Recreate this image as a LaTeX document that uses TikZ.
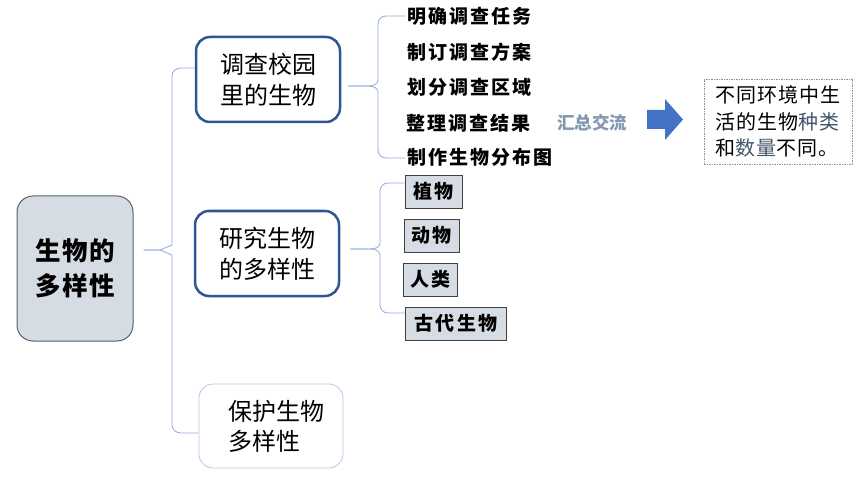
\documentclass[tikz,border=0pt]{standalone}
\usepackage{fontspec}
\setmainfont{Noto Sans CJK SC}
\newfontfamily\cjk{Noto Sans CJK SC}
\newfontfamily\cjkitem[LetterSpace=11]{Noto Sans CJK SC}
\newfontfamily\cjkroot[LetterSpace=6]{Noto Sans CJK SC}
\newfontfamily\cjkres[LetterSpace=5]{Noto Sans CJK SC}
\definecolor{rootfill}{HTML}{D6DCE4}
\definecolor{rootdraw}{HTML}{59606B}
\definecolor{darkblue}{HTML}{2F5597}
\definecolor{paleblue}{HTML}{B4C7E7}
\definecolor{connc}{HTML}{8FAADC}
\definecolor{graybl}{HTML}{8497B0}
\definecolor{slate}{HTML}{44546A}
\definecolor{arrowc}{HTML}{4472C4}
\definecolor{boxdraw}{HTML}{404040}
\tikzset{
  rootbox/.style={draw=rootdraw, line width=1pt, fill=rootfill, rounded corners=16pt,
    minimum width=116pt, minimum height=145pt, inner sep=0pt, align=center,
    font=\cjkroot\bfseries\fontsize{25.5}{35}\selectfont},
  mainbox/.style={draw=darkblue, line width=2.5pt, rounded corners=14pt,
    minimum width=144pt, minimum height=85pt, inner sep=0pt, align=center,
    font=\cjk\fontsize{24}{31}\selectfont},
  softbox/.style={draw=paleblue, line width=0.8pt, rounded corners=14pt,
    minimum width=144pt, minimum height=84pt, inner sep=0pt,
    font=\cjk\fontsize{24}{30}\selectfont},
  itemtxt/.style={inner sep=0pt, anchor=west, font=\cjkitem\bfseries\fontsize{19}{20}\selectfont},
  graybox/.style={draw=boxdraw, line width=0.8pt, fill=rootfill, minimum height=33pt,
    inner sep=0pt, font=\cjkitem\bfseries\fontsize{19}{20}\selectfont},
  resbox/.style={draw=graybl, line width=0.8pt, dash pattern=on 1.5pt off 1pt,
    minimum width=148pt, minimum height=85pt, inner sep=0pt, align=left,
    font=\cjkres\fontsize{20}{26.5}\selectfont},
  conn/.style={draw=connc, line width=0.8pt},
}
\begin{document}
\begin{tikzpicture}[x=1pt,y=-1pt]
\useasboundingbox (0,0) rectangle (860,484);
% root
\node[rootbox] (root) at (75,268.5) {生物的\\多样性};
% main branches
\node[mainbox] (c1) at (268,79.5) {调查校园\\里的生物};
\node[mainbox] (c2) at (267,253.5) {研究生物\\的多样性};
\node[softbox, text width=110pt, align=left] (c3) at (271,426) {\hspace*{12pt}保护生物\\\hspace*{12pt}多样性};
% items of branch 1
\node[itemtxt] (i1) at (407,16) {明确调查任务};
\node[itemtxt] (i2) at (407,52) {制订调查方案};
\node[itemtxt] (i3) at (407,87) {划分调查区域};
\node[itemtxt] (i4) at (406,123) {整理调查结果};
\node[itemtxt] (i5) at (407,157) {制作生物分布图};
% summary
\node[inner sep=0pt, anchor=west, text=graybl, font=\cjk\bfseries\fontsize{17.5}{20}\selectfont] (hz) at (557,123) {汇总交流};
\fill[arrowc] (647,110) -- (665,110) -- (665,99) -- (683,119.5) -- (665,140) -- (665,129) -- (647,129) -- cycle;
\node[resbox] (res) at (778,121.5) {不同环境中生\\活的生物\textcolor{slate}{种类}\\和\textcolor{slate}{数量}不同。};
% items of branch 2
\node[graybox, minimum width=57pt] (b1) at (433.5,191.5) {植物};
\node[graybox, minimum width=55pt] (b2) at (431.5,235.5) {动物};
\node[graybox, minimum width=54pt] (b3) at (430.5,279.5) {人类};
\node[graybox, minimum width=101pt] (b4) at (456,323.5) {古代生物};
% main brace
\draw[conn, shorten >=10pt] ([yshift=11.5pt]c1.west) -- (181,68) to[out=180,in=90] (172,76)
  -- (172,245) -- (160,250) -- ([yshift=18.5pt]root.east);
\draw[conn, shorten >=10pt] ([yshift=-7pt]c3.west) -- (181,433) to[out=180,in=-90] (172,425)
  -- (172,255) -- (160,250) -- ([yshift=18.5pt]root.east);
% brace of branch 1
\draw[conn, shorten <=7pt, shorten >=2pt] ([yshift=-6.5pt]c1.east) -- (368,86) to[out=0,in=-90] (378,80)
  -- (378,24) to[out=90,in=180] (386,16) -- (i1.west);
\draw[conn, shorten <=7pt, shorten >=2pt] ([yshift=-6.5pt]c1.east) -- (368,86) to[out=0,in=90] (378,92)
  -- (378,150) to[out=-90,in=180] (386,158) -- ([yshift=-1pt]i5.west);
% brace of branch 2
\draw[conn, shorten <=10pt] ([yshift=4.5pt]c2.east) -- (370,249) to[out=0,in=-90] (380,243)
  -- (380,191) to[out=90,in=180] (388,183) -- ([yshift=8.5pt]b1.west);
\draw[conn, shorten <=10pt] ([yshift=4.5pt]c2.east) -- (370,249) to[out=0,in=90] (380,255)
  -- (380,305) to[out=-90,in=180] (388,313) -- ([yshift=10.5pt]b4.west);
\end{tikzpicture}
\end{document}
